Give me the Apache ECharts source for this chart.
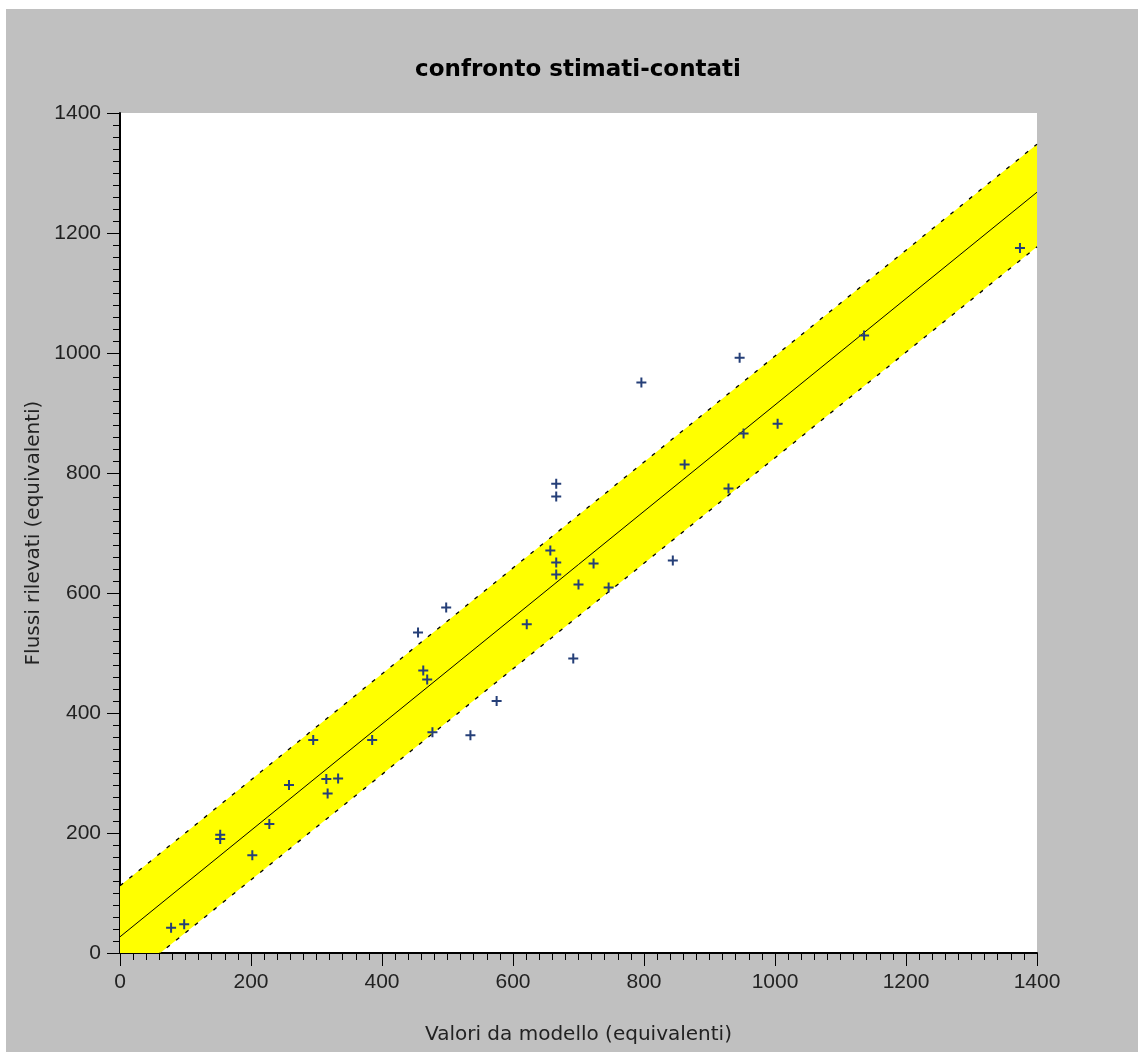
<!DOCTYPE html>
<html>
<head>
	<meta charset="utf-8">
	<title>confronto stimati-contati</title>
	<script src="https://cdn.jsdelivr.net/npm/echarts@6/dist/echarts.min.js"></script>
	<style>
	  html, body{
		margin: 0;
		padding: 0;
		background: #fff;
	  }
	  #chart{
		position: absolute;
		left: 6px;
		top: 9px;
		width: 1132px;
		height: 1043px;
	  }
	</style>
</head>
<body>
<div id="chart"></div>

<script>
	// punti: [valore da modello, flusso rilevato]
	var points = [
		[78, 42], [98, 48], [153, 190], [153, 197], [202, 163],
		[228, 215], [258, 280], [295, 355], [315, 290], [333, 291],
		[317, 266], [385, 355], [455, 534], [463, 471], [469, 456],
		[477, 368], [498, 576], [535, 363], [575, 420], [621, 548],
		[657, 671], [666, 651], [666, 631], [666, 782], [666, 761],
		[692, 491], [700, 614], [723, 649], [746, 609], [796, 951],
		[844, 654], [862, 814], [929, 774], [946, 992], [952, 866],
		[1004, 882], [1136, 1029], [1374, 1175]
	];

	// retta di regressione e limiti della fascia
	var fitLine = [[0, 27], [1400, 1268]];
	var upperBand = [[0, 112], [1400, 1348]];
	var lowerBand = [[0, -54], [1400, 1177]];

	var axisTicks = [0, 200, 400, 600, 800, 1000, 1200, 1400];

	var plusPath = 'path://M4,0h2v4h4v2h-4v4h-2v-4h-4v-2h4z';

	function axisCommon(name, gap){
		return {
			type : 'value',
			min : axisTicks[0],
			max : axisTicks[axisTicks.length - 1],
			interval : axisTicks[1] - axisTicks[0],
			name : name,
			nameLocation : 'middle',
			nameGap : gap,
			nameTextStyle : {
				fontFamily : 'DejaVu Sans',
				fontSize : 20,
				color : '#222'
			},
			axisLine : { show : true, lineStyle : { color : '#000', width : 2 } },
			axisTick : { show : true, length : 13, lineStyle : { color : '#000', width : 1 } },
			minorTick : { show : true, splitNumber : 10, length : 7, lineStyle : { color : '#000', width : 1 } },
			splitLine : { show : false },
			axisLabel : {
				fontFamily : 'Liberation Sans',
				fontSize : 21,
				color : '#222',
				margin : 19,
				formatter : function(v){ return String(v); }
			}
		};
	}

	var xAxis = axisCommon('Valori da modello (equivalenti)', 72);
	var yAxis = axisCommon('Flussi rilevati (equivalenti)', 73);

	var option = {
		backgroundColor : '#c0c0c0',
		animation : false,
		title : {
			text : 'confronto stimati-contati',
			left : 567,
			top : 45,
			textAlign : 'center',
			textStyle : {
				fontFamily : 'DejaVu Sans',
				fontWeight : 'bold',
				fontSize : 23,
				color : '#000'
			}
		},
		grid : {
			left : 114,
			top : 104,
			right : 101,
			bottom : 99,
			show : true,
			backgroundColor : '#fff',
			borderWidth : 0
		},
		xAxis : xAxis,
		yAxis : yAxis,
		series : [
			{
				// fascia gialla tra i due limiti
				type : 'custom',
				silent : true,
				z : 1,
				data : [0],
				renderItem : function(params, api){
					var pts = [];
					for (var i = 0; i < upperBand.length; i++) {
						pts.push(api.coord(upperBand[i]));
					}
					for (var j = lowerBand.length - 1; j >= 0; j--) {
						pts.push(api.coord(lowerBand[j]));
					}
					var cs = params.coordSys;
					return {
						type : 'polygon',
						shape : { points : pts },
						style : { fill : '#ffff00' },
						clipPath : {
							type : 'rect',
							shape : { x : cs.x, y : cs.y, width : cs.width, height : cs.height }
						}
					};
				}
			},
			{
				type : 'line',
				data : upperBand,
				showSymbol : false,
				silent : true,
				clip : true,
				z : 2,
				lineStyle : { color : '#000', width : 1.3, type : [4, 8] }
			},
			{
				type : 'line',
				data : lowerBand,
				showSymbol : false,
				silent : true,
				clip : true,
				z : 2,
				lineStyle : { color : '#000', width : 1.3, type : [4, 8] }
			},
			{
				type : 'line',
				data : fitLine,
				showSymbol : false,
				silent : true,
				clip : true,
				z : 2,
				lineStyle : { color : '#000', width : 1 }
			},
			{
				type : 'scatter',
				data : points,
				symbol : plusPath,
				symbolSize : 10,
				z : 3,
				itemStyle : { color : '#253f78', opacity : 1 }
			}
		]
	};

	var myChart = echarts.init(document.getElementById('chart'));
	myChart.setOption(option);
</script>
</body>
</html>
